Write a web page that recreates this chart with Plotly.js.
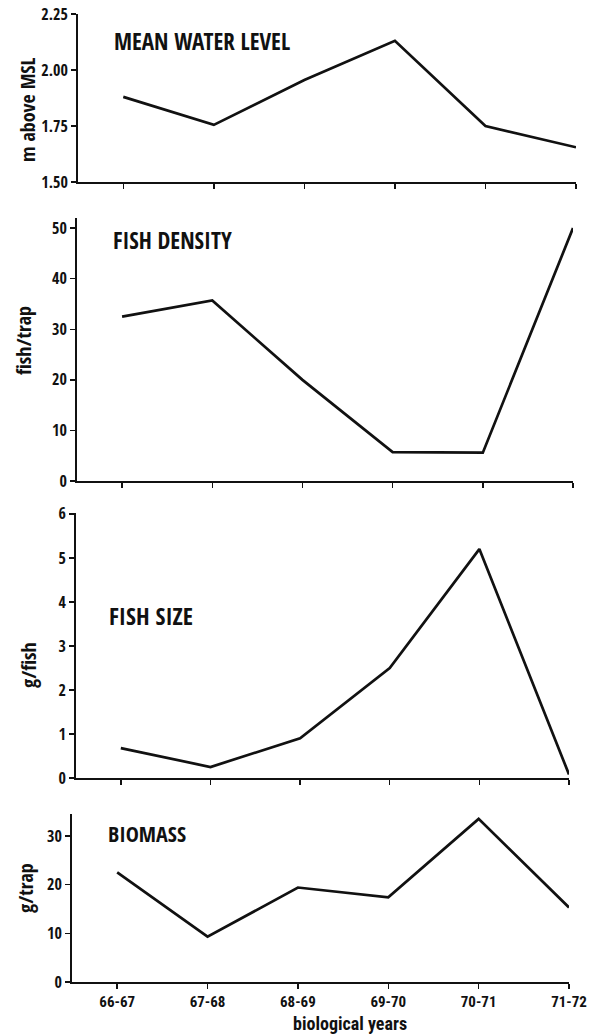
<!DOCTYPE html>
<html>
<head>
<meta charset="utf-8">
<script src="https://cdn.plot.ly/plotly-3.0.1.min.js"></script>
<style>html,body{margin:0;padding:0;background:#fff;}#chart{width:599px;height:1034px;}</style>
</head>
<body>
<div id="chart"></div>
<script>
const years = ['66-67', '67-68', '68-69', '69-70', '70-71', '71-72'];
const waterLevel = [1.88, 1.755, 1.955, 2.13, 1.75, 1.655];
const fishDensity = [32.5, 35.7, 20, 5.7, 5.6, 50];
const fishSize = [0.68, 0.25, 0.9, 2.5, 5.2, 0.08];
const biomass = [22.5, 9.3, 19.4, 17.4, 33.5, 15.3];

const panelTitles = ['MEAN WATER LEVEL', 'FISH DENSITY', 'FISH SIZE', 'BIOMASS'];
const yTitles = ['m above MSL', 'fish/trap', 'g/fish', 'g/trap'];
const xTitle = 'biological years';

const W = 599, H = 1034;
const FONT = '"Open Sans Condensed", "Roboto Condensed", "DejaVu Sans", sans-serif';
const FONT2 = '"Roboto Condensed", "Open Sans Condensed", "DejaVu Sans", sans-serif';
const px = v => v / W;
const py = v => 1 - v / H;

const series = [waterLevel, fishDensity, fishSize, biomass];
const traces = series.map((vals, i) => ({
  x: years, y: vals, type: 'scatter', mode: 'lines',
  line: {color: '#111', width: 2.7},
  xaxis: i === 0 ? 'x' : 'x' + (i + 1),
  yaxis: i === 0 ? 'y' : 'y' + (i + 1),
  hoverinfo: 'skip', showlegend: false
}));

const xDomains = [[78, 576], [77, 573], [76, 569], [72, 569]];
const yDomains = [[182, 14], [481, 218], [778, 513], [982, 814]];
const yRanges = [[1.5, 2.25], [0, 52], [0, 6.02], [0, 34.5]];
const yTicks = [[1.5, 1.75, 2.0, 2.25], [0, 10, 20, 30, 40, 50], [0, 1, 2, 3, 4, 5, 6], [0, 10, 20, 30]];

const layout = {
  width: W, height: H,
  margin: {l: 0, r: 0, t: 0, b: 0},
  paper_bgcolor: '#fff', plot_bgcolor: 'rgba(0,0,0,0)',
  font: {family: FONT, color: '#111', size: 14, weight: 'bold'},
  showlegend: false,
  annotations: []
};

for (let i = 0; i < 4; i++) {
  const xk = i === 0 ? 'xaxis' : 'xaxis' + (i + 1);
  const yk = i === 0 ? 'yaxis' : 'yaxis' + (i + 1);
  layout[xk] = {
    domain: [px(xDomains[i][0]), px(xDomains[i][1])],
    anchor: i === 0 ? 'y' : 'y' + (i + 1),
    type: 'category', range: [-0.5, 5],
    showline: true, linecolor: '#111', linewidth: 2,
    ticks: 'outside', ticklen: 5, tickwidth: 1.5, tickcolor: '#111',
    showgrid: false, zeroline: false,
    showticklabels: i === 3,
    tickfont: {family: FONT2, size: 15, weight: 'bold', color: '#111'},
    fixedrange: true
  };
  layout[yk] = {
    domain: [py(yDomains[i][0]), py(yDomains[i][1])],
    anchor: i === 0 ? 'x' : 'x' + (i + 1),
    range: yRanges[i],
    tickvals: yTicks[i],
    tickformat: i === 0 ? '.2f' : 'd',
    showline: true, linecolor: '#111', linewidth: 2,
    ticks: 'outside', ticklen: 5, tickwidth: 1.5, tickcolor: '#111',
    showgrid: false, zeroline: false,
    tickfont: {family: FONT, size: 16, weight: 'bold', color: '#111'},
    fixedrange: true
  };
}

const titlePos = [[112, 41, 23], [111, 240, 23], [107, 615, 24], [106, 833, 22]];
panelTitles.forEach((t, i) => {
  layout.annotations.push({
    text: t, xref: 'paper', yref: 'paper',
    x: px(titlePos[i][0]), y: py(titlePos[i][1]),
    xanchor: 'left', yanchor: 'middle', showarrow: false,
    font: {family: FONT, size: titlePos[i][2], weight: 'bold', color: '#111'}
  });
});

const yTitlePos = [[27, 110], [23, 341], [28, 665], [25, 888]];
yTitles.forEach((t, i) => {
  layout.annotations.push({
    text: t, xref: 'paper', yref: 'paper',
    x: px(yTitlePos[i][0]), y: py(yTitlePos[i][1]),
    xanchor: 'center', yanchor: 'middle', showarrow: false, textangle: -90,
    font: {family: FONT, size: 20, weight: 'bold', color: '#111'}
  });
});

layout.annotations.push({
  text: xTitle, xref: 'paper', yref: 'paper',
  x: px(350), y: py(1023), xanchor: 'center', yanchor: 'middle', showarrow: false,
  font: {family: FONT2, size: 18, weight: 'bold', color: '#111'}
});

Plotly.newPlot('chart', traces, layout, {displayModeBar: false, staticPlot: true});
</script>
</body>
</html>
